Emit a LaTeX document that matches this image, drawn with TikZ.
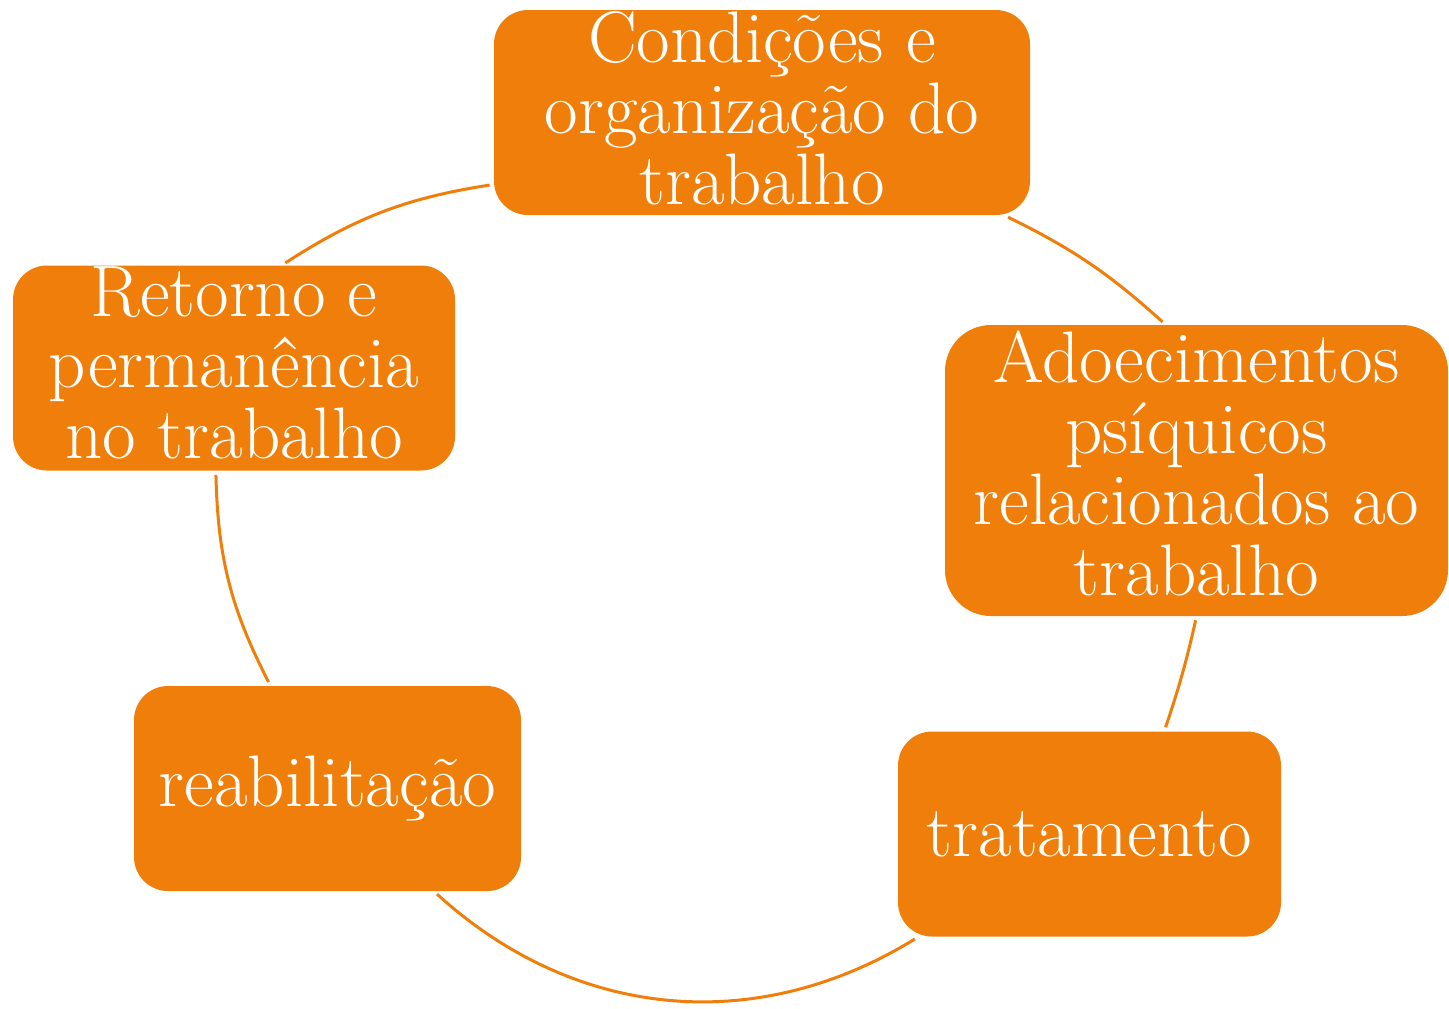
\documentclass[tikz,border=0pt]{standalone}
\usepackage{fontspec}
\usepackage{xcolor}
\usepackage{tikz}
\usetikzlibrary{positioning}

\definecolor{laranja}{RGB}{239,127,10}

\tikzset{
  etapa/.style={rectangle, fill=laranja, text=white, align=center, inner sep=0pt,
    font=\fontsize{36.5}{35.5}\selectfont},
  elo/.style={draw=laranja, line width=1.5pt, shorten <=2pt, shorten >=2pt}
}

\begin{document}
\begin{tikzpicture}[x=0.5pt, y=-0.5pt]

\useasboundingbox (0,0) rectangle (1449,1008);

\node[etapa, text depth=5pt, rounded corners=17pt, minimum width=268pt, minimum height=102.5pt] (cond) at (762,112.5) {Condições e\\organização do\\trabalho};
\node[etapa, text depth=7pt, rounded corners=23pt, minimum width=251.5pt, minimum height=145.5pt] (adoec) at (1196.5,470.5) {Adoecimentos\\psíquicos\\relacionados ao\\trabalho};
\node[etapa, rounded corners=17pt, minimum width=191.5pt, minimum height=102.5pt] (trat) at (1089.5,834) {tratamento};
\node[etapa, rounded corners=17pt, minimum width=193.5pt, minimum height=102.5pt] (reab) at (327.5,788.5) {reabilitação};
\node[etapa, text depth=5pt, rounded corners=17pt, minimum width=221pt, minimum height=102.5pt] (ret) at (234,368) {Retorno e\\permanência\\no trabalho};

\draw[elo] (ret.65) to[bend left=12] (cond.195);
\draw[elo] (cond.-23) to[bend left=8] (adoec.102);
\draw[elo] (adoec.south) to[bend left=3] (trat.54);
\draw[elo] (trat.211) to[bend left=37] (reab.-44);
\draw[elo] (reab.119) to[bend left=13] (ret.260);

\end{tikzpicture}
\end{document}
